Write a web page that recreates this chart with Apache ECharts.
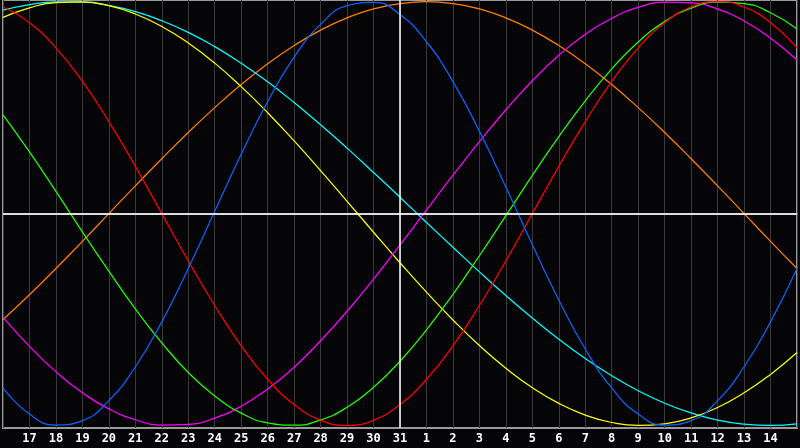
<!DOCTYPE html>
<html>
<head>
<meta charset="utf-8">
<script src="https://cdn.jsdelivr.net/npm/echarts@6/dist/echarts.min.js"></script>
<style>
html,body{margin:0;padding:0;background:#050407;}
#chart{width:800px;height:448px;}
</style>
</head>
<body>
<div id="chart"></div>
<script>
// Day labels (index 0..30); today = 31 (index 15)
const dayLabels = ['16','17','18','19','20','21','22','23','24','25','26','27','28','29','30','31',
                   '1','2','3','4','5','6','7','8','9','10','11','12','13','14','15'];
const todayLabel = '31';

// Cycle values, one per day
const physical     = [-0.823,-0.946,-0.998,-0.977,-0.883,-0.723,-0.511,-0.259,0.011,0.280,0.529,0.738,0.893,0.981,0.997,0.939,0.811,0.623,0.389,0.125,-0.147,-0.408,-0.639,-0.823,-0.946,-0.998,-0.977,-0.883,-0.723,-0.511,-0.259];
const emotional    = [0.975,0.901,0.782,0.624,0.434,0.223,0.000,-0.223,-0.434,-0.624,-0.782,-0.901,-0.975,-1.000,-0.975,-0.901,-0.782,-0.624,-0.434,-0.223,0.000,0.223,0.434,0.624,0.782,0.901,0.975,1.000,0.975,0.901,0.782];
const intellectual = [0.466,0.291,0.105,-0.086,-0.272,-0.450,-0.610,-0.750,-0.861,-0.942,-0.988,-0.999,-0.974,-0.914,-0.820,-0.697,-0.549,-0.381,-0.199,-0.010,0.180,0.363,0.532,0.683,0.810,0.906,0.970,0.998,0.991,0.948,0.871];
const aesthetic    = [0.926,0.971,0.996,0.999,0.981,0.942,0.883,0.805,0.710,0.599,0.476,0.343,0.203,0.058,-0.088,-0.232,-0.371,-0.502,-0.623,-0.730,-0.822,-0.896,-0.951,-0.986,-1.000,-0.992,-0.964,-0.915,-0.846,-0.759,-0.656];
const spiritual    = [0.960,0.986,0.999,0.998,0.982,0.953,0.910,0.855,0.788,0.709,0.622,0.524,0.419,0.309,0.194,0.077,-0.042,-0.159,-0.275,-0.387,-0.493,-0.593,-0.684,-0.765,-0.836,-0.895,-0.941,-0.975,-0.994,-1.000,-0.992];
const awareness    = [-0.500,-0.383,-0.259,-0.131,0.000,0.131,0.259,0.383,0.500,0.609,0.707,0.793,0.866,0.924,0.966,0.991,1.000,0.991,0.966,0.924,0.866,0.793,0.707,0.609,0.500,0.383,0.259,0.131,0.000,-0.131,-0.259];
const intuitive    = [-0.490,-0.627,-0.747,-0.846,-0.922,-0.973,-0.998,-0.995,-0.965,-0.909,-0.828,-0.725,-0.600,-0.461,-0.309,-0.148,0.017,0.181,0.340,0.490,0.627,0.747,0.846,0.922,0.973,0.998,0.995,0.965,0.909,0.828,0.725];

const chart = echarts.init(document.getElementById('chart'), null, {renderer: 'canvas'});

function line(name, data, color) {
  return {
    name: name, type: 'line', data: data, smooth: true, showSymbol: false,
    symbol: 'none', silent: true,
    lineStyle: {color: color, width: 1.25}
  };
}

const series = [
  line('Awareness', awareness, '#ff8000'),
  line('Spiritual', spiritual, '#00ffff'),
  line('Aesthetic', aesthetic, '#ffff00'),
  line('Intuitive', intuitive, '#ff00ff'),
  line('Intellectual', intellectual, '#22ff00'),
  line('Emotional', emotional, '#ff0000'),
  line('Physical', physical, '#0a64ff')
];
series.push({
  type: 'line', data: [], silent: true,
  markLine: {
    silent: true, symbol: ['none', 'none'], animation: false,
    label: {show: false},
    lineStyle: {color: '#ffffff', width: 1.5, type: 'solid'},
    data: [{yAxis: 0}, {xAxis: todayLabel}]
  }
});

chart.setOption({
  backgroundColor: '#050407',
  animation: false,
  grid: {left: 0, right: 0, top: 0, bottom: 20, show: true,
         borderColor: '#9a9a9a', borderWidth: 2, backgroundColor: 'transparent'},
  xAxis: {
    type: 'category', data: dayLabels, boundaryGap: false,
    axisLine: {show: true, lineStyle: {color: '#9a9a9a', width: 1.5}},
    axisTick: {show: false},
    splitLine: {show: true, interval: 0, lineStyle: {color: '#3a3a3a', width: 1}},
    axisLabel: {
      interval: 0, color: '#ffffff', fontFamily: 'DejaVu Sans Mono',
      fontWeight: 'bold', fontSize: 12, margin: 5,
      formatter: function (v, i) { return (i === 0 || i === dayLabels.length - 1) ? '' : v; }
    }
  },
  yAxis: {
    type: 'value', min: -1.012, max: 1.008, show: false,
    splitLine: {show: false}
  },
  series: series
});
</script>
</body>
</html>
